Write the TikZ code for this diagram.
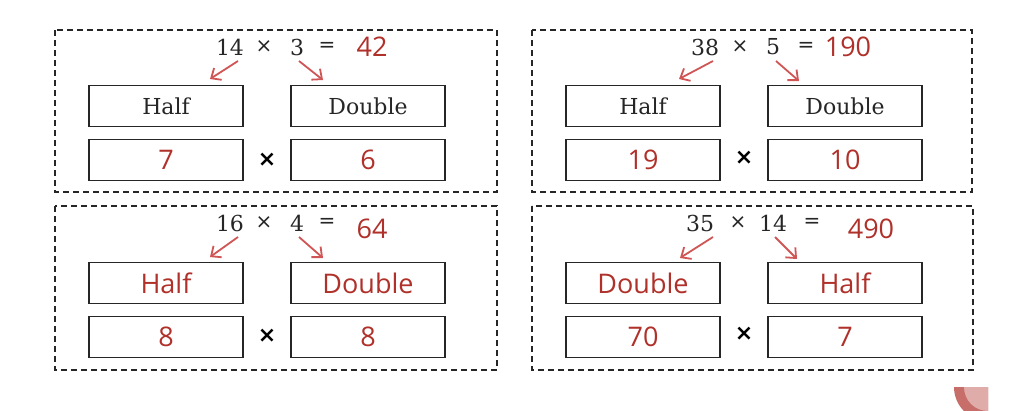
\documentclass[tikz,border=0pt]{standalone}
\usepackage{fontspec}
\setsansfont{Open Sans}
\setmainfont{DejaVu Serif}
\newfontfamily\djs{DejaVu Sans}
\usetikzlibrary{arrows.meta}
\definecolor{myred}{HTML}{B0302A}
\definecolor{arr}{HTML}{D05555}
\begin{document}
\begin{tikzpicture}[x=1pt,y=-1pt,
 panel/.style={draw, dash pattern=on 6pt off 4pt, line width=1.4pt, draw=black!85},
 cell/.style={draw, line width=1.6pt, draw=black!85, minimum width=154pt, minimum height=41pt, inner sep=0pt},
 blk/.style={text=black!85, font=\fontsize{22}{26}\selectfont},
 rsf/.style={text=myred, font=\sffamily\fontsize{27}{30}\selectfont},
 op/.style={text=black!85, font=\djs\fontsize{20}{24}\selectfont},
 mul/.style={font=\djs\bfseries\fontsize{22}{26}\selectfont},
 ar/.style={draw=arr, line width=1.8pt, -{Straight Barb[length=8pt,width=14pt]}}]
\useasboundingbox (0,0) rectangle (1024,410);
\fill[white] (0,0) rectangle (1024,410);
% panels
\draw[panel] (55,30) rectangle (497,192);
\draw[panel] (532,30) rectangle (972,192);
\draw[panel] (55,206) rectangle (497,370);
\draw[panel] (532,206) rectangle (973,370);
% TL
\node[blk] (a1) at (230,47) {14};
\node[op] (a2) at (264,47) {×};
\node[blk] (a3) at (297,47) {3};
\node[op] (a4) at (327,47) {=};
\node[rsf] (a5) at (372,47) {42};
\node[cell,blk] (ah) at (166,106) {Half};
\node[cell,blk] (ad) at (368,106) {Double};
\node[cell,rsf] (an1) at (166,160) {7};
\node[cell,rsf] (an2) at (368,160) {6};
\node[mul] (am) at (267,160) {×};
\coordinate (as1) at (238,61); \coordinate (ae1) at (210,79);
\coordinate (as2) at (299,61); \coordinate (ae2) at (323,80);
\draw[ar] (as1) -- (ae1); \draw[ar] (as2) -- (ae2);
% TR
\node[blk] (b1) at (705,47) {38};
\node[op] (b2) at (740,47) {×};
\node[blk] (b3) at (773,47) {5};
\node[op] (b4) at (806,47) {=};
\node[rsf] (b5) at (848,47) {190};
\node[cell,blk] (bh) at (643,106) {Half};
\node[cell,blk] (bd) at (845,106) {Double};
\node[cell,rsf] (bn1) at (643,160) {19};
\node[cell,rsf] (bn2) at (845,160) {10};
\node[mul] (bm) at (744,158) {×};
\coordinate (bs1) at (713,61); \coordinate (be1) at (679,79);
\coordinate (bs2) at (776,61); \coordinate (be2) at (799,81);
\draw[ar] (bs1) -- (be1); \draw[ar] (bs2) -- (be2);
% BL
\node[blk] (c1) at (230,223) {16};
\node[op] (c2) at (264,223) {×};
\node[blk] (c3) at (297,223) {4};
\node[op] (c4) at (327,223) {=};
\node[rsf] (c5) at (372,229) {64};
\node[cell,rsf] (ch) at (166,283) {Half};
\node[cell,rsf] (cd) at (368,283) {Double};
\node[cell,rsf] (cn1) at (166,337) {8};
\node[cell,rsf] (cn2) at (368,337) {8};
\node[mul] (cm) at (267,336) {×};
\coordinate (cs1) at (238,237); \coordinate (ce1) at (210,257);
\coordinate (cs2) at (299,237); \coordinate (ce2) at (323,258);
\draw[ar] (cs1) -- (ce1); \draw[ar] (cs2) -- (ce2);
% BR
\node[blk] (d1) at (700,223) {35};
\node[op] (d2) at (738,223) {×};
\node[blk] (d3) at (773,223) {14};
\node[op] (d4) at (812,223) {=};
\node[rsf] (d5) at (871,229) {490};
\node[cell,rsf] (dh) at (643,283) {Double};
\node[cell,rsf] (dd) at (845,283) {Half};
\node[cell,rsf] (dn1) at (643,337) {70};
\node[cell,rsf] (dn2) at (845,337) {7};
\node[mul] (dm) at (744,334) {×};
\coordinate (ds1) at (713,237); \coordinate (de1) at (680,258);
\coordinate (ds2) at (775,237); \coordinate (de2) at (797,259);
\draw[ar] (ds1) -- (de1); \draw[ar] (ds2) -- (de2);
% decoration
\fill[myred!70] (954,387) arc (180:90:34) -- (988,387) -- cycle;
\fill[myred!40] (964,387) arc (180:90:24) -- (988,387) -- cycle;
\end{tikzpicture}
\end{document}
